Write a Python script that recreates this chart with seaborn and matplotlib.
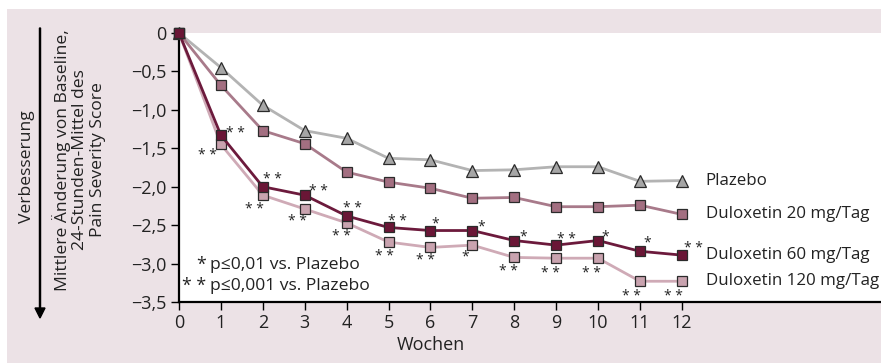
import matplotlib
matplotlib.use("Agg")
import matplotlib.pyplot as plt
import seaborn as sns
import numpy as np
import pandas as pd
from matplotlib.patches import Rectangle, FancyArrow
from matplotlib.ticker import FixedLocator, FuncFormatter

# ---------------- data ----------------
weeks = [0, 1, 2, 3, 4, 5, 6, 7, 8, 9, 10, 11, 12]
plazebo = [0, -0.45, -0.94, -1.27, -1.37, -1.63, -1.65, -1.79, -1.78, -1.74, -1.74, -1.93, -1.92]
dulox20 = [0, -0.68, -1.27, -1.44, -1.81, -1.94, -2.02, -2.15, -2.14, -2.26, -2.26, -2.24, -2.36]
dulox60 = [0, -1.33, -2.00, -2.11, -2.38, -2.53, -2.57, -2.57, -2.70, -2.76, -2.70, -2.84, -2.89]
dulox120 = [0, -1.45, -2.11, -2.29, -2.47, -2.72, -2.79, -2.76, -2.92, -2.93, -2.93, -3.23, -3.23]
series_names = ["Plazebo", "Duloxetin 20 mg/Tag", "Duloxetin 60 mg/Tag", "Duloxetin 120 mg/Tag"]
sig60 = ["**", "**", "**", "**", "**", "*", "*", "*", "**", "*", "*", "**"]     # weeks 1..12
sig120 = ["**", "**", "**", "**", "**", "**", "*", "**", "**", "**", "**", "**"]
yticks = [0, -0.5, -1.0, -1.5, -2.0, -2.5, -3.0, -3.5]
xlabel = "Wochen"
ylabel_main = "Mittlere Änderung von Baseline,\n24-Stunden-Mittel des\nPain Severity Score"
ylabel_arrow = "Verbesserung"
note_stars = ["*", "**"]
note_texts = ["p≤0,01 vs. Plazebo", "p≤0,001 vs. Plazebo"]

# ---------------- style ----------------
sns.set_theme(style="white")
plt.rcParams["font.family"] = ["Open Sans", "DejaVu Sans"]
FS = 13
W, H = 881, 363
fig = plt.figure(figsize=(W / 100, H / 100), dpi=100, facecolor="white")
bg = "#ece2e6"
fig.patches.append(Rectangle((7 / W, 0), 1, (H - 9) / H, transform=fig.transFigure,
                             facecolor=bg, edgecolor="none", zorder=-10))

ax_l, ax_r, ax_t, ax_b = 179, 881, 33, 302
ax = fig.add_axes([ax_l / W, (H - ax_b) / H, (ax_r - ax_l) / W, (ax_b - ax_t) / H])
ax.set_facecolor("white")

px_per_week = 41.9
ax.set_xlim(0, (ax_r - ax_l) / px_per_week)
ax.set_ylim(-3.5, 0.0)

colors = {
    "Plazebo": ("#b3b3b3", "#a6a6a6", "^", 8.5),
    "Duloxetin 20 mg/Tag": ("#a87a8a", "#a36f81", "s", 7.2),
    "Duloxetin 60 mg/Tag": ("#6c1a3c", "#6a1636", "s", 7.2),
    "Duloxetin 120 mg/Tag": ("#cfaab6", "#c9a3af", "s", 7.2),
}
vals = {"Plazebo": plazebo, "Duloxetin 20 mg/Tag": dulox20,
        "Duloxetin 60 mg/Tag": dulox60, "Duloxetin 120 mg/Tag": dulox120}

order = ["Plazebo", "Duloxetin 20 mg/Tag", "Duloxetin 120 mg/Tag", "Duloxetin 60 mg/Tag"]
for i, name in enumerate(order):
    lc, mc, mk, ms = colors[name]
    df = pd.DataFrame({"w": weeks, "v": vals[name]})
    sns.lineplot(data=df, x="w", y="v", ax=ax, color=lc, lw=2.0, marker=mk, markersize=ms,
                 markerfacecolor=mc, markeredgecolor="#2b2b2b", markeredgewidth=0.9,
                 clip_on=False, zorder=3 + i, legend=False)

# end labels
for name in series_names:
    ax.annotate(name, (weeks[-1], vals[name][-1]), xytext=(24, 0), textcoords="offset pixels",
                ha="left", va="center", fontsize=12.2, color="#222222", annotation_clip=False)

# significance stars
off60 = [(15, 5), (10, 10), (14, 7), (6, 10), (9, 9), (5, 10), (9, 7), (9, 7), (10, 9), (7, 7), (7, 11), (12, 10)]
off120 = [(-13, -8), (-8, -11), (-7, -9), (-5, -11), (-4, -11), (-5, -10), (-7, -9), (-6, -11), (-6, -12), (-7, -12), (-8, -12), (-8, -12)]
for k in range(12):
    w = weeks[k + 1]
    for lab, ser, off in ((sig60[k], dulox60, off60[k]), (sig120[k], dulox120, off120[k])):
        txt = " ".join(list(lab))
        ax.annotate(txt, (w, ser[k + 1]), xytext=(off[0], off[1] - 3), textcoords="offset pixels",
                    ha="center", va="center", fontsize=10, color="#222222", annotation_clip=False, zorder=10)

# note
for j, (st, tx) in enumerate(zip(note_stars, note_texts)):
    yy = 1 - (265 + 21 * j - ax_t) / (ax_b - ax_t)
    xx_star = (206 - ax_l) / (ax_r - ax_l)
    xx_txt = (210 - ax_l) / (ax_r - ax_l)
    ax.text(xx_star, yy, " ".join(list(st)), transform=ax.transAxes, ha="right", va="center",
            fontsize=12.8, color="#222222")
    ax.text(xx_txt, yy, tx, transform=ax.transAxes, ha="left", va="center",
            fontsize=12.6, color="#222222")

# axes styling
for s in ["top", "right"]:
    ax.spines[s].set_visible(False)
for s in ["left", "bottom"]:
    ax.spines[s].set_color("black")
    ax.spines[s].set_linewidth(1.6)
ax.xaxis.set_major_locator(FixedLocator(weeks))
ax.yaxis.set_major_locator(FixedLocator(yticks))
ax.yaxis.set_major_formatter(FuncFormatter(lambda v, p: "0" if abs(v) < 1e-9 else f"{v:.1f}".replace(".", ",").replace("-", "\u2212")))
ax.tick_params(axis="both", which="major", direction="out", length=6, width=1.0, color="black",
               labelsize=FS, labelcolor="#222222", pad=3, bottom=True, left=True)
ax.set_xlabel("")
ax.set_ylabel("")
ax.annotate(xlabel, (6, 0), xycoords=("data", "axes fraction"), xytext=(0, -(345 - ax_b)),
            textcoords="offset pixels", ha="center", va="center", fontsize=FS, color="#222222",
            annotation_clip=False)

# y labels
fig.text(79 / W, 1 - 160 / H, ylabel_main, rotation=90, ha="center", va="center",
         multialignment="center", fontsize=12.6, color="#222222", linespacing=1.1)
fig.text(27 / W, 1 - 167 / H, ylabel_arrow, rotation=90, ha="center", va="center",
         fontsize=12.6, color="#222222")
fig.patches.append(FancyArrow(40 / W, 1 - 28 / H, 0, -(318 - 28 - 10) / H, width=0.0012,
                              head_width=10 / W, head_length=10 / H, length_includes_head=False,
                              transform=fig.transFigure, color="black", zorder=5))

fig.savefig("out.png", dpi=100, facecolor="white")
